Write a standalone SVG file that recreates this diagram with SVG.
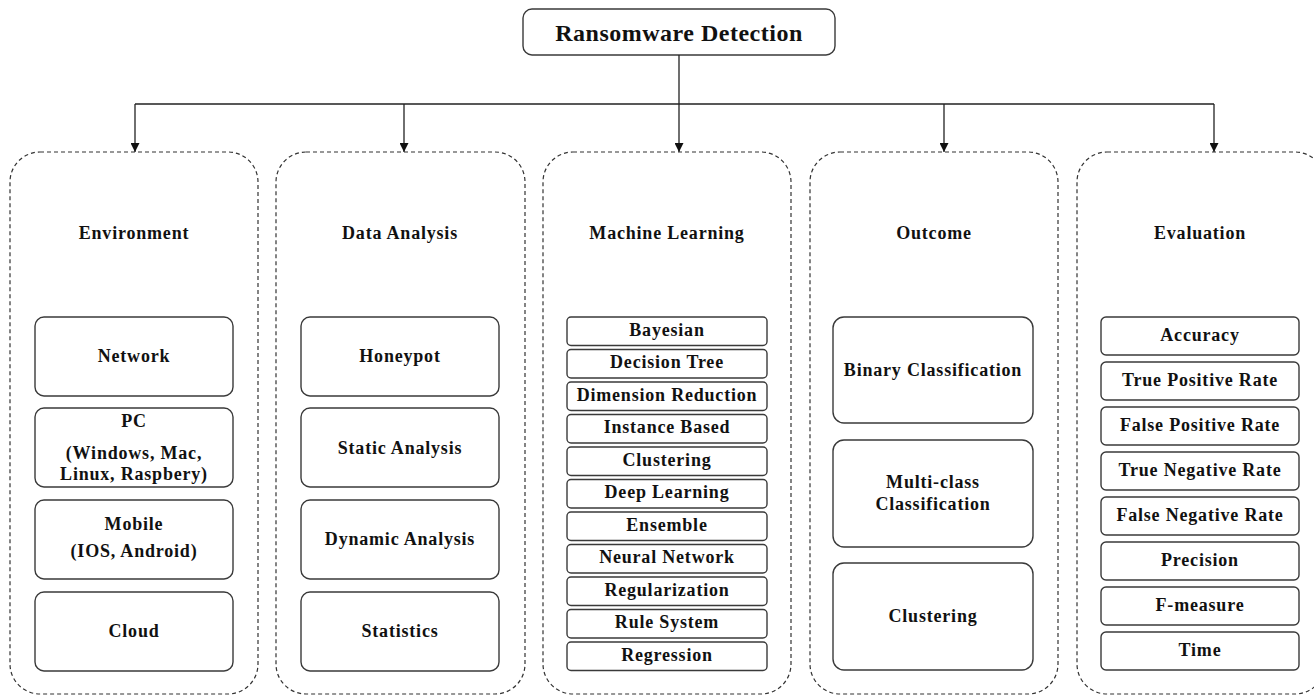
<svg xmlns="http://www.w3.org/2000/svg" width="1314" height="696" viewBox="0 0 1314 696">
  <defs>
    <marker id="arrow" viewBox="0 0 10 10" refX="10" refY="5" markerWidth="9" markerHeight="9" markerUnits="userSpaceOnUse" orient="auto">
      <path d="M0,0 L10,5 L0,10 z" fill="#111"/>
    </marker>
    <style>
      text { font-family: 'Liberation Serif', 'Times New Roman', serif; font-weight: bold; fill: #111; text-anchor: middle; }
      .title { font-size: 24px; letter-spacing: 0.5px; }
      .head { font-size: 18px; letter-spacing: 0.8px; }
      .lbl { font-size: 18px; letter-spacing: 0.8px; }
      .group { fill: none; stroke: #333; stroke-width: 1.2; stroke-dasharray: 4 3; }
      .box { fill: #fff; stroke: #3a3a3a; stroke-width: 1.4; }
      .wire { fill: none; stroke: #222; stroke-width: 1.3; }
    </style>
  </defs>
  <rect width="1314" height="696" fill="#fff"/>

  <!-- root -->
  <g id="root">
    <rect class="box" x="523" y="9" width="312" height="46" rx="9"/>
    <text class="title" x="679" y="41">Ransomware Detection</text>
  </g>

  <!-- connectors: trunk, bus and drops into each category -->
  <g id="connectors">
    <path class="wire" d="M679,55 V104 M135,104 H1214"/>
    <path class="wire" d="M135,104 V152" marker-end="url(#arrow)"/>
    <path class="wire" d="M404,104 V152" marker-end="url(#arrow)"/>
    <path class="wire" d="M679,104 V152" marker-end="url(#arrow)"/>
    <path class="wire" d="M944,104 V152" marker-end="url(#arrow)"/>
    <path class="wire" d="M1214,104 V152" marker-end="url(#arrow)"/>
  </g>

  <!-- Environment -->
  <g id="environment">
    <rect class="group" x="10" y="152" width="248" height="542" rx="30"/>
    <text class="head" x="134" y="239">Environment</text>
    <rect class="box" x="35" y="317" width="198" height="79" rx="9"/>
    <text class="lbl" x="134" y="362">Network</text>
    <rect class="box" x="35" y="408" width="198" height="79" rx="9"/>
    <text class="lbl" x="134" y="427">PC</text>
    <text class="lbl" x="134" y="459">(Windows, Mac,</text>
    <text class="lbl" x="134" y="480">Linux, Raspbery)</text>
    <rect class="box" x="35" y="500" width="198" height="79" rx="9"/>
    <text class="lbl" x="134" y="530">Mobile</text>
    <text class="lbl" x="134" y="557">(IOS, Android)</text>
    <rect class="box" x="35" y="592" width="198" height="79" rx="9"/>
    <text class="lbl" x="134" y="637">Cloud</text>
  </g>

  <!-- Data Analysis -->
  <g id="data-analysis">
    <rect class="group" x="276" y="152" width="249" height="542" rx="30"/>
    <text class="head" x="400" y="239">Data Analysis</text>
    <rect class="box" x="301" y="317" width="198" height="79" rx="9"/>
    <text class="lbl" x="400" y="362">Honeypot</text>
    <rect class="box" x="301" y="408" width="198" height="79" rx="9"/>
    <text class="lbl" x="400" y="454">Static Analysis</text>
    <rect class="box" x="301" y="500" width="198" height="79" rx="9"/>
    <text class="lbl" x="400" y="545">Dynamic Analysis</text>
    <rect class="box" x="301" y="592" width="198" height="79" rx="9"/>
    <text class="lbl" x="400" y="637">Statistics</text>
  </g>

  <!-- Machine Learning -->
  <g id="machine-learning">
    <rect class="group" x="543" y="152" width="248" height="542" rx="30"/>
    <text class="head" x="667" y="239">Machine Learning</text>
    <rect class="box" x="567" y="317" width="200" height="28.5" rx="4"/>
    <text class="lbl" x="667" y="335.5">Bayesian</text>
    <rect class="box" x="567" y="349.5" width="200" height="28.5" rx="4"/>
    <text class="lbl" x="667" y="368">Decision Tree</text>
    <rect class="box" x="567" y="382" width="200" height="28.5" rx="4"/>
    <text class="lbl" x="667" y="400.5">Dimension Reduction</text>
    <rect class="box" x="567" y="414.5" width="200" height="28.5" rx="4"/>
    <text class="lbl" x="667" y="433">Instance Based</text>
    <rect class="box" x="567" y="447" width="200" height="28.5" rx="4"/>
    <text class="lbl" x="667" y="465.5">Clustering</text>
    <rect class="box" x="567" y="479.5" width="200" height="28.5" rx="4"/>
    <text class="lbl" x="667" y="498">Deep Learning</text>
    <rect class="box" x="567" y="512" width="200" height="28.5" rx="4"/>
    <text class="lbl" x="667" y="530.5">Ensemble</text>
    <rect class="box" x="567" y="544.5" width="200" height="28.5" rx="4"/>
    <text class="lbl" x="667" y="563">Neural Network</text>
    <rect class="box" x="567" y="577" width="200" height="28.5" rx="4"/>
    <text class="lbl" x="667" y="595.5">Regularization</text>
    <rect class="box" x="567" y="609.5" width="200" height="28.5" rx="4"/>
    <text class="lbl" x="667" y="628">Rule System</text>
    <rect class="box" x="567" y="642" width="200" height="28.5" rx="4"/>
    <text class="lbl" x="667" y="660.5">Regression</text>
  </g>

  <!-- Outcome -->
  <g id="outcome">
    <rect class="group" x="810" y="152" width="248" height="542" rx="30"/>
    <text class="head" x="934" y="239">Outcome</text>
    <rect class="box" x="833" y="317" width="200" height="106" rx="11"/>
    <text class="lbl" x="933" y="376">Binary Classification</text>
    <rect class="box" x="833" y="440" width="200" height="107" rx="11"/>
    <text class="lbl" x="933" y="488">Multi-class</text>
    <text class="lbl" x="933" y="510">Classification</text>
    <rect class="box" x="833" y="563" width="200" height="107" rx="11"/>
    <text class="lbl" x="933" y="622">Clustering</text>
  </g>

  <!-- Evaluation -->
  <g id="evaluation">
    <rect class="group" x="1077" y="152" width="248" height="542" rx="30"/>
    <text class="head" x="1200" y="239">Evaluation</text>
    <rect class="box" x="1101" y="317" width="198" height="38" rx="5"/>
    <text class="lbl" x="1200" y="341">Accuracy</text>
    <rect class="box" x="1101" y="362" width="198" height="38" rx="5"/>
    <text class="lbl" x="1200" y="386">True Positive Rate</text>
    <rect class="box" x="1101" y="407" width="198" height="38" rx="5"/>
    <text class="lbl" x="1200" y="431">False Positive Rate</text>
    <rect class="box" x="1101" y="452" width="198" height="38" rx="5"/>
    <text class="lbl" x="1200" y="476">True Negative Rate</text>
    <rect class="box" x="1101" y="497" width="198" height="38" rx="5"/>
    <text class="lbl" x="1200" y="521">False Negative Rate</text>
    <rect class="box" x="1101" y="542" width="198" height="38" rx="5"/>
    <text class="lbl" x="1200" y="566">Precision</text>
    <rect class="box" x="1101" y="587" width="198" height="38" rx="5"/>
    <text class="lbl" x="1200" y="611">F-measure</text>
    <rect class="box" x="1101" y="632" width="198" height="38" rx="5"/>
    <text class="lbl" x="1200" y="656">Time</text>
  </g>
</svg>
